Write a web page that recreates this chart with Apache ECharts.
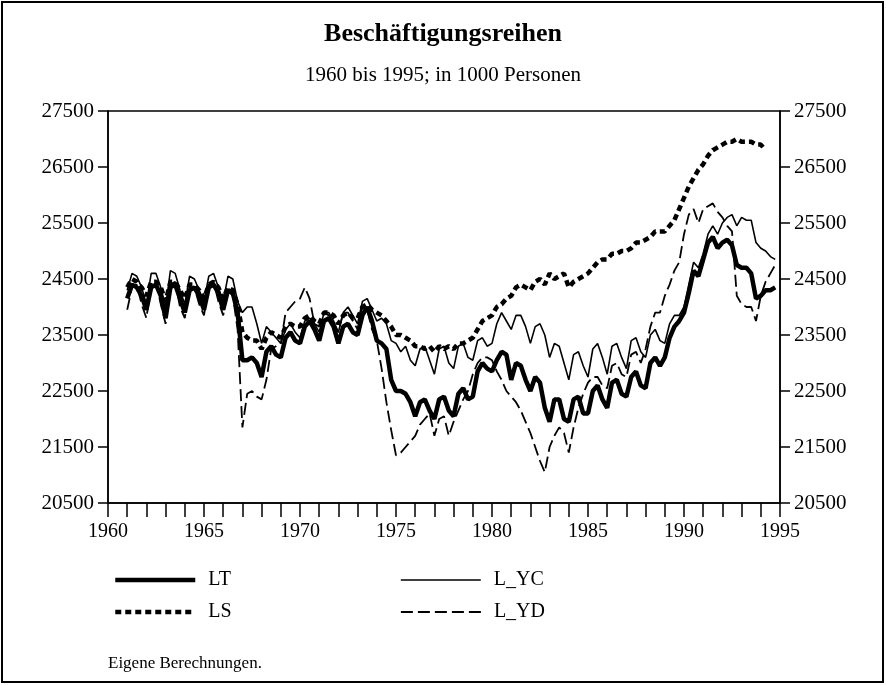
<!DOCTYPE html>
<html>
<head>
<meta charset="utf-8">
<script src="https://cdn.jsdelivr.net/npm/echarts@6/dist/echarts.min.js"></script>
<style>
  html, body { margin: 0; padding: 0; background: #fff; }
  #chart { width: 886px; height: 685px; }
</style>
</head>
<body>
<div id="chart"></div>
<script>
// quarterly values, 1961Q1 .. 1994Q4, in 1000 persons
const firstYear = 1961;
const lastYear = 1994;

const LT = [
  24150, 24400, 24350, 24200,  23950, 24350, 24400, 24200,
  23800, 24350, 24400, 24150,  23900, 24300, 24350, 24200,
  23950, 24350, 24400, 24250,  23950, 24300, 24250, 23900,
  23050, 23050, 23100, 23000,  22750, 23200, 23300, 23150,
  23100, 23450, 23550, 23400,  23350, 23650, 23750, 23600,
  23400, 23750, 23800, 23650,  23350, 23650, 23700, 23550,
  23500, 23850, 24000, 23750,  23400, 23350, 23250, 22700,
  22500, 22500, 22450, 22300,  22050, 22300, 22350, 22150,
  22000, 22350, 22400, 22150,  22050, 22450, 22550, 22350,
  22400, 22850, 23000, 22900,  22850, 23050, 23200, 23150,
  22700, 23000, 22950, 22700,  22500, 22750, 22650, 22200,
  21950, 22350, 22350, 22000,  21950, 22350, 22400, 22100,
  22100, 22500, 22600, 22350,  22200, 22650, 22700, 22450,
  22400, 22750, 22850, 22600,  22550, 23000, 23100, 22950,
  23100, 23450, 23650, 23750,  23900, 24250, 24650, 24550,
  24850, 25150, 25250, 25050,  25150, 25200, 25100, 24750,
  24700, 24700, 24600, 24150,  24200, 24300, 24300, 24350
];

const LS = [
  24350, 24500, 24450, 24350,  24200, 24450, 24450, 24350,
  24100, 24450, 24450, 24300,  24150, 24400, 24400, 24300,
  24150, 24400, 24450, 24350,  24150, 24350, 24300, 24050,
  23550, 23450, 23400, 23400,  23250, 23450, 23550, 23500,
  23450, 23650, 23700, 23650,  23650, 23800, 23850, 23750,
  23700, 23900, 23900, 23850,  23700, 23850, 23900, 23800,
  23800, 24000, 24050, 23950,  23900, 23850, 23750, 23650,
  23500, 23500, 23450, 23400,  23300, 23300, 23250, 23300,
  23200, 23300, 23250, 23300,  23250, 23350, 23350, 23400,
  23450, 23600, 23750, 23800,  23850, 24000, 24050, 24150,
  24200, 24350, 24400, 24350,  24300, 24450, 24500, 24400,
  24600, 24500, 24550, 24600,  24350, 24450, 24500, 24550,
  24600, 24700, 24800, 24850,  24850, 24950, 24950, 25000,
  25000, 25050, 25150, 25150,  25200, 25250, 25350, 25350,
  25350, 25450, 25550, 25750,  25950, 26150, 26300, 26450,
  26550, 26700, 26800, 26850,  26900, 26950, 26950, 27000,
  26950, 26950, 26950, 26900,  26900, 26800, null, null
];

const L_YC = [
  24300, 24600, 24550, 24350,  24050, 24600, 24600, 24350,
  24000, 24650, 24600, 24300,  24050, 24550, 24500, 24300,
  24100, 24550, 24600, 24350,  24100, 24550, 24500, 24100,
  23900, 24000, 24000, 23700,  23350, 23650, 23550, 23450,
  23350, 23600, 23700, 23550,  23450, 23750, 23800, 23700,
  23550, 23900, 23900, 23750,  23550, 23900, 24000, 23850,
  23700, 24100, 24150, 23950,  23750, 23800, 23700, 23400,
  23350, 23200, 23300, 23050,  22950, 23250, 23300, 23050,
  22800, 23250, 23300, 23000,  22900, 23300, 23350, 23100,
  23050, 23400, 23450, 23300,  23350, 23700, 23900, 23750,
  23600, 23850, 23850, 23650,  23350, 23650, 23700, 23500,
  23100, 23350, 23300, 23000,  22700, 23150, 23200, 22950,
  22750, 23250, 23350, 23100,  22800, 23300, 23350, 23100,
  22900, 23400, 23450, 23200,  23100, 23500, 23600, 23400,
  23350, 23700, 23850, 23850,  24000, 24400, 24800, 24700,
  24950, 25300, 25450, 25300,  25500, 25600, 25650, 25450,
  25600, 25550, 25550, 25150,  25050, 25000, 24900, 24850
];

const L_YD = [
  23950, 24350, 24400, 24050,  23800, 24400, 24450, 24050,
  23700, 24400, 24450, 24000,  23800, 24350, 24350, 24050,
  23850, 24400, 24450, 24100,  23850, 24300, 24200, 23600,
  21850, 22450, 22500, 22400,  22350, 22700, 23250, 23300,
  23350, 23900, 24000, 24100,  24150, 24350, 24150, 23700,
  23650, 23900, 23850, 23700,  23550, 23900, 23900, 23750,
  23600, 24000, 23950, 23600,  23400, 22900, 22300, 21800,
  21350, 21400, 21500, 21600,  21700, 21900, 22000, 22100,
  21700, 22000, 22050, 21700,  21950, 22150, 22350, 22500,
  22800, 23000, 23100, 23100,  23050, 22850, 22700, 22500,
  22400, 22300, 22150, 21950,  21750, 21500, 21250, 21050,
  21500, 21700, 21850, 21750,  21400, 21850, 22200, 22450,
  22650, 22750, 22750, 22600,  22550, 22950, 23000, 22800,
  22750, 23150, 23200, 23000,  23250, 23650, 23900, 23900,
  24200, 24400, 24650, 24800,  25300, 25650, 25750, 25500,
  25750, 25800, 25850, 25700,  25600, 25450, 25350, 24200,
  24050, 24000, 24000, 23750,  24200, 24450, 24600, 24750
];

const yTicks = [20500, 21500, 22500, 23500, 24500, 25500, 26500, 27500];

// x position of each quarter
const quarters = [];
for (let y = firstYear; y <= lastYear; y++) {
    for (let q = 0; q < 4; q++) quarters.push(y + q / 4);
}
function pairs(values) {
    return values.map((v, i) => [quarters[i], v]);
}

const font = '"Liberation Serif", "DejaVu Serif", serif';
const chart = echarts.init(document.getElementById('chart'), null, { renderer: 'canvas' });

const yAxisBase = {
    type: 'value',
    min: yTicks[0],
    max: yTicks[yTicks.length - 1],
    interval: 1000,
    axisLine: { show: true, lineStyle: { color: '#000', width: 1.5 } },
    axisTick: { show: true, length: 10, lineStyle: { color: '#000', width: 1.5 } },
    splitLine: { show: false },
    axisLabel: { color: '#000', fontFamily: font, fontSize: 21, margin: 14, formatter: v => String(v) }
};

function legendAt(name, left, top) {
    return {
        data: [name],
        left: left,
        top: top,
        itemWidth: 80,
        itemHeight: 16,
        itemGap: 0,
        selectedMode: false,
        lineStyle: { width: 'inherit', type: 'inherit' },
        itemStyle: { color: 'rgba(0,0,0,0)', borderWidth: 0, opacity: 0 },
        textStyle: { color: '#000', fontFamily: font, fontSize: 20, padding: [0, 0, 0, 8] }
    };
}

const option = {
    backgroundColor: '#fff',
    animation: false,
    title: [
        {
            text: 'Beschäftigungsreihen',
            left: 'center',
            top: 16,
            textStyle: { fontFamily: font, fontWeight: 'bold', fontSize: 26, color: '#000' }
        },
        {
            text: '1960 bis 1995; in 1000 Personen',
            left: 'center',
            top: 60,
            textStyle: { fontFamily: font, fontWeight: 'normal', fontSize: 21, color: '#000' }
        }
    ],
    legend: [
        legendAt('LT', 108, 565),
        legendAt('LS', 108, 597),
        legendAt('L_YC', 395, 565),
        legendAt('L_YD', 395, 597)
    ],
    grid: {
        left: 108, right: 106, top: 111, bottom: 182,
        show: true, borderColor: '#000', borderWidth: 1.5, backgroundColor: 'transparent'
    },
    xAxis: {
        type: 'value',
        min: 1960,
        max: 1995,
        interval: 1,
        axisLine: { show: true, onZero: false, lineStyle: { color: '#000', width: 1.5 } },
        axisTick: { show: true, length: 14, lineStyle: { color: '#000', width: 1.5 } },
        splitLine: { show: false },
        axisLabel: {
            color: '#000', fontFamily: font, fontSize: 20, margin: 19,
            formatter: v => (v % 5 === 0 ? String(v) : '')
        }
    },
    yAxis: [
        Object.assign({}, yAxisBase, { position: 'left' }),
        Object.assign({}, yAxisBase, { position: 'right' })
    ],
    graphic: [
        {
            type: 'rect',
            shape: { x: 2, y: 2, width: 881, height: 680 },
            style: { fill: 'none', stroke: '#000', lineWidth: 2 },
            silent: true
        },
        {
            type: 'text',
            left: 108,
            top: 655,
            style: { text: 'Eigene Berechnungen.', fill: '#000', font: '17px ' + font }
        }
    ],
    series: [
        {
            name: 'LT', type: 'line', data: pairs(LT), symbol: 'none',
            lineStyle: { color: '#000', width: 4.5 }, itemStyle: { color: '#000' }, z: 4
        },
        {
            name: 'LS', type: 'line', data: pairs(LS), symbol: 'none',
            lineStyle: { color: '#000', width: 4.5, type: [6, 4] }, itemStyle: { color: '#000' }, z: 3
        },
        {
            name: 'L_YC', type: 'line', data: pairs(L_YC), symbol: 'none',
            lineStyle: { color: '#000', width: 1.6 }, itemStyle: { color: '#000' }, z: 5
        },
        {
            name: 'L_YD', type: 'line', data: pairs(L_YD), symbol: 'none',
            lineStyle: { color: '#000', width: 1.8, type: [12, 5] }, itemStyle: { color: '#000' }, z: 2
        }
    ]
};

chart.setOption(option);
</script>
</body>
</html>
